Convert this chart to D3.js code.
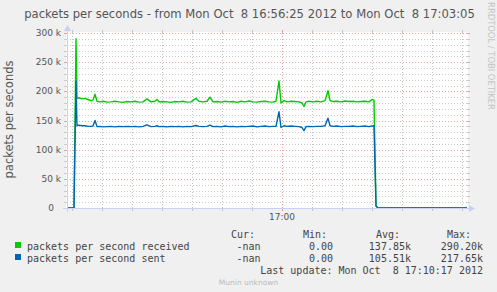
<!DOCTYPE html>
<html>
<head>
<meta charset="utf-8">
<script src="https://cdn.jsdelivr.net/npm/d3@7"></script>
<style>
  body { margin: 0; background: #f0f0f0; }
  svg { display: block; }
  text { font-family: "DejaVu Sans", sans-serif; fill: #555; }
  .mono { font-family: "DejaVu Sans Mono", monospace; font-size: 10px; white-space: pre; fill: #444; }
</style>
</head>
<body>
<div id="chart"></div>
<script>
const startTime = new Date(2012, 9, 8, 16, 56, 25);
const endTime = new Date(2012, 9, 8, 17, 3, 5);

// seconds after startTime
const offsets = [
  0, 7, 9, 10, 12, 15, 18, 21, 24, 26,
  28, 30, 33, 36, 40, 44, 48, 52, 56, 60,
  64, 68, 72, 76, 80, 84, 88, 90, 92, 96,
  100, 104, 108, 112, 116, 120, 124, 129, 132, 136,
  140, 143, 146, 150, 154, 158, 162, 166, 170, 174,
  178, 182, 186, 190, 194, 198, 202, 206, 209, 212,
  214, 217, 220, 224, 228, 232, 235, 237, 239, 242,
  246, 250, 254, 258, 261, 263, 266, 270, 274, 278,
  282, 286, 290, 294, 298, 302, 305, 307, 309, 311,
  400
];
// thousands of packets / s
const received = [
  0, 0, 290.2, 188, 189, 187, 188, 186, 184, 185,
  195, 183, 182, 183, 181.5, 182, 183, 182, 181, 182.5,
  182, 183, 181.5, 182, 187, 182, 183, 186, 182, 182.5,
  182, 181, 182.5, 182, 183, 181.5, 182, 188, 183, 182,
  183, 190, 182, 182.5, 181.5, 183, 182, 182.5, 181, 183,
  182, 183.5, 182, 181.5, 182.5, 183, 182, 181.5, 183, 218,
  180, 184, 182, 183, 182.5, 182, 180, 174, 182, 183,
  182, 183, 182, 184, 201, 184, 182.5, 183, 182, 183.5,
  182.5, 183, 182, 182.5, 183, 182, 186, 185, 4, 0,
  0
];
const sent = [
  0, 0, 217.6, 141, 142, 141, 141, 140, 140, 140.5,
  150, 139.5, 140, 139, 139.5, 140, 139, 140, 139.5, 140,
  139.5, 140, 139, 140, 142.5, 139.5, 140, 141, 139.5, 140,
  139, 140, 139.5, 140, 139, 140, 139.5, 141.5, 140, 139.5,
  140, 142, 139.5, 140, 139, 140.5, 139.5, 140, 139, 140,
  139.5, 140, 140.5, 139, 140, 140.5, 139.5, 140, 140, 165,
  138, 141, 140, 140.5, 140, 139.5, 138, 132.5, 139.5, 140,
  139.5, 140, 140, 141, 154, 141, 140, 140.5, 139.5, 140,
  140, 140.5, 139.5, 140, 140.5, 139.5, 140.5, 141, 3, 0,
  0
];

const seriesNames = ['packets per second received', 'packets per second sent'];
const seriesColors = ['#00cc00', '#0066b3'];
const legendHeader = ['Cur:', 'Min:', 'Avg:', 'Max:'];
const receivedStats = ['-nan', '0.00', '137.85k', '290.20k'];
const sentStats = ['-nan', '0.00', '105.51k', '217.65k'];

const width = 497;
const height = 292;
const plot = {left: 67, right: 467, top: 33, bottom: 208};

const svg = d3.select('#chart').append('svg')
  .attr('width', width).attr('height', height);

svg.append('rect').attr('width', width).attr('height', height).attr('fill', '#f0f0f0');

const xScale = d3.scaleTime().domain([startTime, endTime]).range([plot.left, plot.right]);
const yScale = d3.scaleLinear().domain([0, 300000]).range([plot.bottom, plot.top]);

const px = v => Math.round(v) + 0.5;

// CANVAS
svg.append('rect')
  .attr('x', plot.left - 1).attr('y', plot.top - 1)
  .attr('width', plot.right - plot.left + 2).attr('height', plot.bottom - plot.top + 1)
  .attr('fill', '#fff');

// GRID
const grid = svg.append('g').attr('shape-rendering', 'crispEdges');
const minorY = d3.range(10000, 300001, 10000).filter(v => v % 50000 !== 0);
const majorY = d3.range(50000, 300001, 50000);
const drawH = (vals, color) => {
  vals.forEach(v => {
    const y = px(yScale(v));
    grid.append('line').attr('x1', plot.left).attr('x2', plot.right).attr('y1', y).attr('y2', y)
      .attr('stroke', color).attr('stroke-dasharray', '1,2');
    grid.append('line').attr('x1', plot.left - 3).attr('x2', plot.left).attr('y1', y).attr('y2', y).attr('stroke', color);
    grid.append('line').attr('x1', plot.right).attr('x2', plot.right + 3).attr('y1', y).attr('y2', y).attr('stroke', color);
  });
};
const drawV = (vals, color) => {
  vals.forEach(v => {
    const x = px(xScale(v));
    grid.append('line').attr('y1', plot.top).attr('y2', plot.bottom).attr('x1', x).attr('x2', x)
      .attr('stroke', color).attr('stroke-dasharray', '1,2');
    grid.append('line').attr('y1', plot.bottom).attr('y2', plot.bottom + 3).attr('x1', x).attr('x2', x).attr('stroke', color);
    grid.append('line').attr('y1', plot.top - 3).attr('y2', plot.top).attr('x1', x).attr('x2', x).attr('stroke', color);
  });
};
const majorX = d3.timeMinute.every(5).range(startTime, endTime);
const minorX = d3.timeSecond.every(30).range(startTime, endTime)
  .filter(t => !majorX.some(m => +m === +t));
drawH(minorY, '#cdcdcd');
drawV(minorX, '#c4c4c4');
drawH(majorY, '#e6a4a4');
drawV(majorX, '#e6a4a4');

// WATERMARK
svg.append('text')
  .attr('transform', 'translate(487.5,56) rotate(90)')
  .attr('text-anchor', 'middle')
  .attr('font-size', 8.4)
  .style('fill', '#c4c4c4')
  .text('RRDTOOL / TOBI OETIKER');

// LINES
const toPoints = vals => offsets.map((o, i) => ({
  date: new Date(+startTime + o * 1000),
  value: vals[i] * 1000
}));
const lineFun = d3.line().x(d => xScale(d.date)).y(d => yScale(d.value));
[received, sent].forEach((vals, i) => {
  svg.append('path')
    .attr('d', lineFun(toPoints(vals)))
    .attr('fill', 'none')
    .attr('stroke', seriesColors[i])
    .attr('stroke-width', 1.4)
    .attr('stroke-linejoin', 'round');
});

// AXES
const axisColor = '#c9d0f6';
svg.append('line').attr('x1', plot.left - 4).attr('x2', plot.right + 4)
  .attr('y1', plot.bottom + 0.5).attr('y2', plot.bottom + 0.5).attr('stroke', axisColor);
svg.append('line').attr('x1', plot.left + 0.5).attr('x2', plot.left + 0.5)
  .attr('y1', plot.bottom + 4).attr('y2', plot.top - 4).attr('stroke', axisColor);
svg.append('path')
  .attr('d', `M${plot.right + 2},${plot.bottom - 3} L${plot.right + 8},${plot.bottom + 0.5} L${plot.right + 2},${plot.bottom + 4} Z`)
  .attr('fill', axisColor);
svg.append('path')
  .attr('d', `M${plot.left - 3},${plot.top - 2} L${plot.left + 0.5},${plot.top - 8} L${plot.left + 4},${plot.top - 2} Z`)
  .attr('fill', axisColor);

// Y LABELS
svg.append('g').selectAll('text').data([0].concat(majorY)).enter().append('text')
  .attr('x', d => (d === 0 ? 54 : 61))
  .attr('y', d => yScale(d))
  .attr('dy', '0.35em')
  .attr('text-anchor', 'end')
  .attr('font-size', 9)
  .text(d => (d === 0 ? '0' : `${d / 1000} k`));

// X LABELS
svg.append('g').selectAll('text').data(majorX).enter().append('text')
  .attr('x', d => xScale(d))
  .attr('y', 220)
  .attr('text-anchor', 'middle')
  .attr('font-size', 9)
  .text(d3.timeFormat('%H:%M'));

// TITLES
svg.append('text')
  .attr('x', width / 2 + 1).attr('y', 17.5)
  .attr('text-anchor', 'middle')
  .attr('font-size', 11.6)
  .style('white-space', 'pre')
  .text('packets per seconds - from Mon Oct  8 16:56:25 2012 to Mon Oct  8 17:03:05');
svg.append('text')
  .attr('transform', `translate(13,${(plot.top + plot.bottom) / 2 - 1}) rotate(-90)`)
  .attr('text-anchor', 'middle')
  .attr('font-size', 11.5)
  .text('packets per seconds');

// LEGEND
const headerX = [231, 303, 376, 447];
const valueRight = [260.5, 333, 411, 483];
svg.append('g').selectAll('text').data(legendHeader).enter().append('text')
  .attr('class', 'mono')
  .attr('x', (d, i) => headerX[i]).attr('y', 237.5)
  .text(d => d);
[receivedStats, sentStats].forEach((stats, i) => {
  const y = 249.5 + i * 12;
  svg.append('rect')
    .attr('x', 15).attr('y', y - 7.5).attr('width', 6).attr('height', 6)
    .attr('fill', seriesColors[i]);
  svg.append('text').attr('class', 'mono').attr('x', 27).attr('y', y).text(seriesNames[i]);
  svg.append('g').selectAll('text').data(stats).enter().append('text')
    .attr('class', 'mono')
    .attr('x', (d, j) => valueRight[j]).attr('y', y)
    .attr('text-anchor', 'end')
    .text(d => d);
});
svg.append('text').attr('class', 'mono')
  .attr('x', 483).attr('y', 273.5)
  .attr('text-anchor', 'end')
  .text('Last update: Mon Oct  8 17:10:17 2012');
svg.append('text')
  .attr('x', width / 2).attr('y', 284.5)
  .attr('text-anchor', 'middle')
  .attr('font-size', 7.5)
  .style('fill', '#bbb')
  .text('Munin unknown');
</script>
</body>
</html>
